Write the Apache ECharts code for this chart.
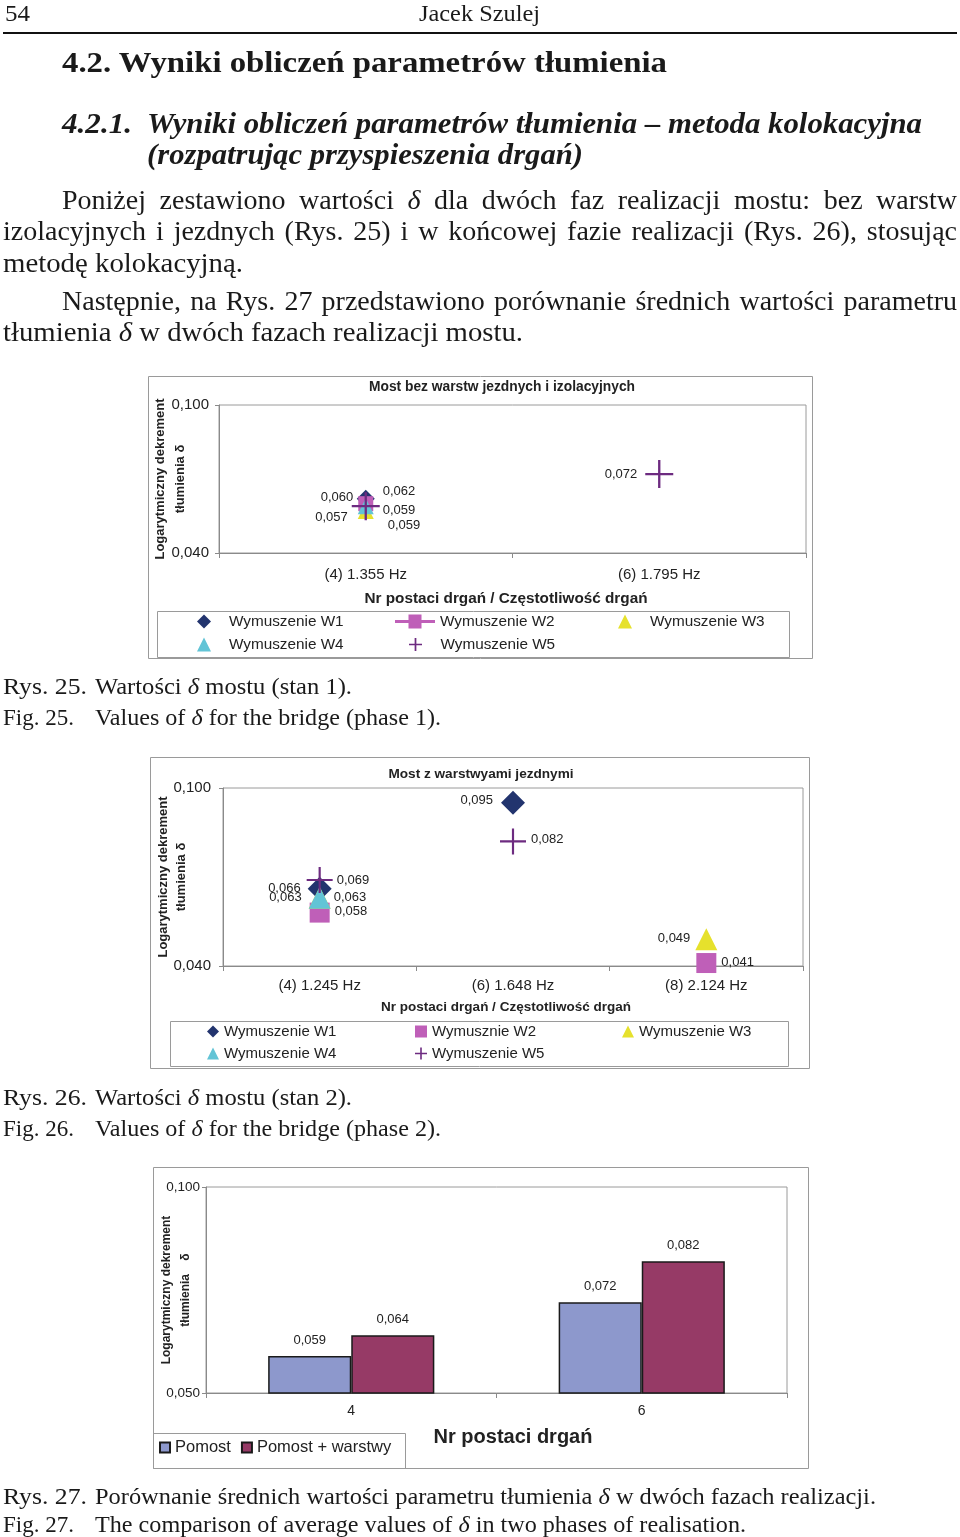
<!DOCTYPE html>
<html><head><meta charset="utf-8">
<script src="https://cdn.jsdelivr.net/npm/echarts@6/dist/echarts.min.js"></script>
<style>
html,body{margin:0;padding:0;background:#fff;}
#page{position:relative;width:960px;height:1537px;overflow:hidden;background:#fff;}
#chart{position:absolute;left:0;top:0;width:960px;height:1537px;}
.t{position:absolute;white-space:nowrap;font-family:"Liberation Serif","DejaVu Serif",serif;color:#1a1a1a;transform-origin:0 50%;}
.b{font-weight:bold}
.bi{font-weight:bold;font-style:italic}
#rule{position:absolute;left:3px;top:32px;width:954px;height:2px;background:#111;}
</style></head>
<body><div id="page"><div id="chart"></div>
<div id="rule"></div>
<div class="t" data-x="5" data-y="13" data-w="25" data-fs="24">54</div>
<div class="t" data-x="419" data-y="13" data-w="121" data-fs="24">Jacek Szulej</div>
<div class="t b" data-x="62" data-y="62" data-w="605" data-fs="30">4.2. Wyniki obliczeń parametrów tłumienia</div>
<div class="t bi" data-x="62" data-y="123" data-w="70" data-fs="29">4.2.1.</div>
<div class="t bi" data-x="147" data-y="123" data-w="775" data-fs="29">Wyniki obliczeń parametrów tłumienia – metoda kolokacyjna</div>
<div class="t bi" data-x="147" data-y="154" data-w="436" data-fs="29">(rozpatrując przyspieszenia drgań)</div>
<div class="t" data-x="62" data-y="200" data-w="895" data-fs="28" data-j="1">Poniżej zestawiono wartości <i>δ</i> dla dwóch faz realizacji mostu: bez warstw</div>
<div class="t" data-x="3" data-y="231" data-w="954" data-fs="28" data-j="1">izolacyjnych i jezdnych (Rys. 25) i w końcowej fazie realizacji (Rys. 26), stosując</div>
<div class="t" data-x="3" data-y="263" data-w="240" data-fs="28">metodę kolokacyjną.</div>
<div class="t" data-x="62" data-y="301" data-w="895" data-fs="28" data-j="1">Następnie, na Rys. 27 przedstawiono porównanie średnich wartości parametru</div>
<div class="t" data-x="3" data-y="332" data-w="520" data-fs="28">tłumienia <i>δ</i> w dwóch fazach realizacji mostu.</div>

<div class="t" data-x="3" data-y="686" data-w="84" data-fs="24">Rys. 25.</div>
<div class="t" data-x="95" data-y="686" data-w="257" data-fs="24">Wartości <i>δ</i> mostu (stan 1).</div>
<div class="t" data-x="3" data-y="717" data-w="71" data-fs="24">Fig. 25.</div>
<div class="t" data-x="95" data-y="717" data-w="346" data-fs="24">Values of <i>δ</i> for the bridge (phase 1).</div>

<div class="t" data-x="3" data-y="1097" data-w="84" data-fs="24">Rys. 26.</div>
<div class="t" data-x="95" data-y="1097" data-w="257" data-fs="24">Wartości <i>δ</i> mostu (stan 2).</div>
<div class="t" data-x="3" data-y="1128" data-w="71" data-fs="24">Fig. 26.</div>
<div class="t" data-x="95" data-y="1128" data-w="346" data-fs="24">Values of <i>δ</i> for the bridge (phase 2).</div>

<div class="t" data-x="3" data-y="1496" data-w="84" data-fs="24">Rys. 27.</div>
<div class="t" data-x="95" data-y="1496" data-w="781" data-fs="24">Porównanie średnich wartości parametru tłumienia <i>δ</i> w dwóch fazach realizacji.</div>
<div class="t" data-x="3" data-y="1524" data-w="71" data-fs="24">Fig. 27.</div>
<div class="t" data-x="95" data-y="1524" data-w="651" data-fs="24">The comparison of average values of <i>δ</i> in two phases of realisation.</div>
</div>
<script>
// ---------- DATA ----------
const cats1 = ['(4) 1.355 Hz', '(6) 1.795 Hz'];
const w1_1 = [0.062, null];
const w2_1 = [0.060, null];
const w3_1 = [0.057, null];
const w4_1 = [0.059, null];
const w5_1 = [0.059, 0.072];

const cats2 = ['(4) 1.245 Hz', '(6) 1.648 Hz', '(8) 2.124 Hz'];
const w1_2 = [0.066, 0.095, null];
const w2_2 = [0.058, null, 0.041];
const w3_2 = [0.063, null, 0.049];
const w4_2 = [0.063, null, null];
const w5_2 = [0.069, 0.082, null];

const cats3 = ['4', '6'];
const pomost = [0.059, 0.072];
const pomostWarstwy = [0.064, 0.082];

const yTicks1 = [0.040, 0.100];
const yTicks2 = [0.040, 0.100];
const yTicks3 = [0.050, 0.100];

// ---------- TEXT FITTING ----------
document.querySelectorAll('.t').forEach(el => {
  const fs = +el.dataset.fs, x = +el.dataset.x, y = +el.dataset.y, w = +el.dataset.w;
  el.style.fontSize = fs + 'px'; el.style.lineHeight = fs + 'px';
  el.style.left = x + 'px'; el.style.top = (y - fs / 2) + 'px';
  const nat = el.getBoundingClientRect().width;
  if (el.dataset.j) {
    const n = (el.textContent.match(/ /g) || []).length;
    const d = w - nat;
    if (d > 0 && n > 0) el.style.wordSpacing = (d / n) + 'px';
    else el.style.transform = 'scaleX(' + (w / nat) + ')';
  } else {
    el.style.transform = 'scaleX(' + (w / nat) + ')';
  }
});

// ---------- CHARTS ----------
const FF = '"Liberation Sans", Arial, sans-serif';
const TXT = '#222';
const AX = '#8a8a8a';
const C = { w1: '#22346E', w2: '#BF5FB8', w3: '#E6E12C', w4: '#62C4D6', w5: '#6D2B80', p: '#8D98CC', pw: '#963A66' };
const PLUS = 'path://M11,0H13V11H24V13H13V24H11V13H0V11H11Z';
const P = {
  diamond: 'path://M5,0L10,5L5,10L0,5Z',
  tri: 'path://M5,0L10,10L0,10Z',
  sq: 'path://M0,0H10V10H0Z',
  plus: 'path://M5.2,0H6.8V5.2H12V6.8H6.8V12H5.2V6.8H0V5.2H5.2Z',
  lineSq: 'path://M0,5.5H13.5V0H26.5V5.5H40V8.5H26.5V14H13.5V8.5H0Z'
};
const fmt = v => Number(v).toFixed(3).replace('.', ',');

// label layout (style only)
const lab1 = {
  w1: [['right', [3, -7]], null],
  w2: [['left', [0, -6]], null],
  w3: [['left', [-5, 6]], null],
  w4: [['right', [4, 4]], null],
  w5: [['right', [3, 19]], ['left', [-3, 0]]]
};
const lab2 = {
  w1: [['left', [-2, 0]], ['left', [-3, -2]], null],
  w2: [['right', [0, -1]], null, ['right', [0, -1]]],
  w3: [['left', [-2, 0]], null, ['left', [0, -1]]],
  w4: [['right', [-2, 0]], null, null],
  w5: [['right', [-1, 0]], ['right', [0, -2]], null]
};

function pts(cats, vals, lab) {
  const out = [];
  vals.forEach((v, i) => {
    if (v == null) return;
    const it = { value: [cats[i], v] };
    if (lab && lab[i]) it.label = { position: lab[i][0], offset: lab[i][1] };
    out.push(it);
  });
  return out;
}
function scat(name, gi, cats, vals, lab, symbol, size, color) {
  return {
    type: 'scatter', name, xAxisIndex: gi, yAxisIndex: gi,
    data: pts(cats, vals, lab), symbol, symbolSize: size,
    itemStyle: { color, opacity: 1 },
    label: { show: true, fontSize: 13, color: TXT, fontFamily: FF, distance: 5, formatter: p => fmt(p.value[1]) },
    emphasis: { disabled: true }
  };
}
function xAx(gi, data, margin, fs, name, nameGap, nameFs, pad) {
  return {
    type: 'category', gridIndex: gi, data, boundaryGap: true,
    axisLine: { show: true, lineStyle: { color: AX, width: 1 } },
    axisTick: { show: true, alignWithLabel: false, interval: 0, length: 5, lineStyle: { color: AX } },
    axisLabel: { show: true, interval: 0, margin, fontSize: fs, color: TXT, fontFamily: FF },
    splitLine: { show: false },
    name, nameLocation: 'middle', nameGap, nameMoveOverlap: false,
    nameTextStyle: { fontWeight: 'bold', fontSize: nameFs, color: TXT, fontFamily: FF, padding: pad }
  };
}
function yAx(gi, ticks, margin, fs, name, nameGap, nameFs, lh, interval) {
  const mn = ticks[0], mx = ticks[ticks.length - 1];
  const a = {
    type: 'value', gridIndex: gi, min: mn, max: mx,
    axisLine: { show: true, lineStyle: { color: AX, width: 1 } },
    axisTick: { show: true, length: 4, lineStyle: { color: AX }, customValues: ticks },
    axisLabel: {
      show: true, margin, fontSize: fs, color: TXT, fontFamily: FF, customValues: ticks,
      formatter: v => ticks.some(t => Math.abs(t - v) < 1e-9) ? fmt(v) : ''
    },
    splitLine: { show: false },
    name, nameLocation: 'middle', nameRotate: 90, nameGap, nameMoveOverlap: false,
    nameTextStyle: { fontWeight: 'bold', fontSize: nameFs, lineHeight: lh, color: TXT, fontFamily: FF }
  };
  if (interval) a.interval = interval;
  return a;
}
function leg(name, icon, left, top, iw, ih, fs) {
  return {
    data: [{ name, icon }], left, top, itemWidth: iw, itemHeight: ih, padding: 0,
    selectedMode: false, orient: 'horizontal',
    textStyle: { fontSize: fs, color: TXT, fontFamily: FF }
  };
}
function box(x1, y1, x2, y2) {
  return { type: 'rect', silent: true, shape: { x: x1 + 0.5, y: y1 + 0.5, width: x2 - x1, height: y2 - y1 },
    style: { fill: 'none', stroke: '#9a9a9a', lineWidth: 1 } };
}
function ttl(text, x, y, fs) {
  return { type: 'text', silent: true, x, y,
    style: { text, fontSize: fs, fontWeight: 'bold', fontFamily: FF, fill: TXT, align: 'center', verticalAlign: 'middle', textAlign: 'center', textVerticalAlign: 'middle' } };
}

const chart = echarts.init(document.getElementById('chart'), null, { renderer: 'canvas' });
const gridBase = { show: true, borderColor: '#9a9a9a', borderWidth: 1, backgroundColor: 'transparent', containLabel: false, outerBoundsMode: 'none' };

const option = {
  animation: false,
  backgroundColor: 'transparent',
  grid: [
    Object.assign({ left: 219, top: 405, width: 587, height: 148 }, gridBase),
    Object.assign({ left: 223, top: 788, width: 580, height: 178 }, gridBase),
    Object.assign({ left: 206, top: 1187, width: 581, height: 206 }, gridBase)
  ],
  xAxis: [
    xAx(0, cats1, 14, 15, 'Nr postaci drgań / Częstotliwość drgań', 38, 15.3, [0, 13, 0, 0]),
    xAx(1, cats2, 12, 15, 'Nr postaci drgań / Częstotliwość drgań', 34, 13.5, [0, 14, 0, 0]),
    xAx(2, cats3, 11, 14, 'Nr postaci drgań', 34, 20, [0, 0, 0, 33])
  ],
  yAxis: [
    yAx(0, yTicks1, 10, 15, 'Logarytmiczny dekrement\ntłumienia δ', 29, 13, 20),
    yAx(1, yTicks2, 12, 15, 'Logarytmiczny dekrement\ntłumienia δ', 33, 13, 18),
    yAx(2, yTicks3, 6, 13.5, 'Logarytmiczny dekrement\ntłumienia    δ', 11, 12, 19, 0.05)
  ],
  legend: [
    leg('Wymuszenie W1', P.diamond, 197, 614, 40, 14, 15.3),
    leg('Wymuszenie W2', P.lineSq, 395, 614, 40, 14, 15.3),
    leg('Wymuszenie W3', P.tri, 618, 614, 40, 14, 15.3),
    leg('Wymuszenie W4', P.tri, 197, 637, 40, 14, 15.3),
    leg('Wymuszenie W5', P.plus, 409, 637, 40, 13, 15.3),
    leg('Wymuszenie W1', P.diamond, 207, 1024, 12, 12, 15),
    leg('Wymusznie W2', P.sq, 415, 1024, 12, 12, 15),
    leg('Wymuszenie W3', P.tri, 622, 1024, 12, 12, 15),
    leg('Wymuszenie W4', P.tri, 207, 1046, 12, 12, 15),
    leg('Wymuszenie W5', P.plus, 415, 1046, 12, 12, 15),
    {
      data: ['Pomost', 'Pomost + warstwy'], left: 159, top: 1439, itemWidth: 10, itemHeight: 10, itemGap: 10,
      padding: 0, selectedMode: false, icon: 'rect',
      textStyle: { fontSize: 16.5, color: TXT, fontFamily: FF }
    }
  ],
  series: [
    scat('Wymuszenie W1', 0, cats1, w1_1, lab1.w1, 'diamond', 18, C.w1),
    scat('Wymuszenie W2', 0, cats1, w2_1, lab1.w2, 'rect', 15, C.w2),
    scat('Wymuszenie W3', 0, cats1, w3_1, lab1.w3, 'triangle', 16, C.w3),
    scat('Wymuszenie W4', 0, cats1, w4_1, lab1.w4, 'triangle', 16, C.w4),
    scat('Wymuszenie W5', 0, cats1, w5_1, lab1.w5, PLUS, 28, C.w5),

    scat('Wymuszenie W1', 1, cats2, w1_2, lab2.w1, 'diamond', 24, C.w1),
    scat('Wymusznie W2', 1, cats2, w2_2, lab2.w2, 'rect', 20, C.w2),
    scat('Wymuszenie W3', 1, cats2, w3_2, lab2.w3, 'triangle', 22, C.w3),
    scat('Wymuszenie W4', 1, cats2, w4_2, lab2.w4, 'triangle', 22, C.w4),
    scat('Wymuszenie W5', 1, cats2, w5_2, lab2.w5, PLUS, 26, C.w5),

    {
      type: 'bar', name: 'Pomost', xAxisIndex: 2, yAxisIndex: 2, data: pomost,
      barWidth: '28.6%', barGap: '0%',
      itemStyle: { color: C.p, borderColor: '#1a1a1a', borderWidth: 1.5 },
      label: { show: true, position: 'top', distance: 9, fontSize: 13, color: TXT, fontFamily: FF, formatter: p => fmt(p.value) },
      emphasis: { disabled: true }
    },
    {
      type: 'bar', name: 'Pomost + warstwy', xAxisIndex: 2, yAxisIndex: 2, data: pomostWarstwy,
      barWidth: '28.6%', barGap: '0%',
      itemStyle: { color: C.pw, borderColor: '#1a1a1a', borderWidth: 1.5 },
      label: { show: true, position: 'top', distance: 9, fontSize: 13, color: TXT, fontFamily: FF, formatter: p => fmt(p.value) },
      emphasis: { disabled: true }
    }
  ],
  graphic: [
    box(148, 376, 812, 658),
    box(157, 611, 789, 657),
    ttl('Most bez warstw jezdnych i izolacyjnych', 502, 387, 13.8),
    box(150, 757, 809, 1068),
    box(170, 1021, 788, 1066),
    ttl('Most z warstwyami jezdnymi', 481, 774, 13.6),
    box(153, 1167, 808, 1468),
    box(153, 1433, 405, 1468)
  ]
};
chart.setOption(option);
</script>
</body></html>
